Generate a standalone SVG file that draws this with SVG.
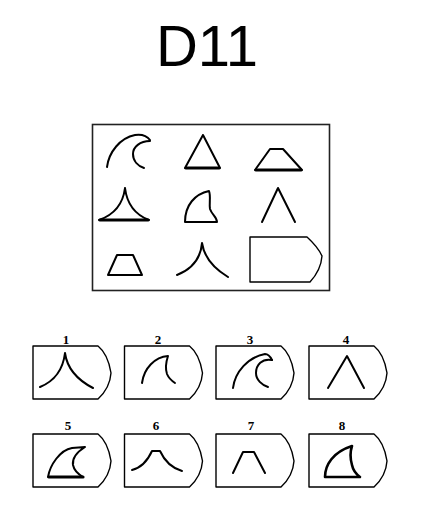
<svg xmlns="http://www.w3.org/2000/svg" width="434" height="516" viewBox="0 0 434 516">
<style>
.fig{fill:none;stroke:#000;stroke-width:2;stroke-linejoin:round;stroke-linecap:round}
.thick{fill:none;stroke:#000;stroke-width:3.2;stroke-linecap:round}
.box{fill:#fff;stroke:#000;stroke-width:1.4;stroke-linejoin:round}
.lbl{font-family:"Liberation Serif",serif;font-weight:bold;font-size:13px;text-anchor:middle;fill:#000}
.title{font-family:"Liberation Sans",Arial,sans-serif;font-size:58px;text-anchor:middle;fill:#000}
</style>
<rect width="434" height="516" fill="#fff"/>
<text class="title" x="207" y="66">D11</text>

<g id="matrix">
<rect x="92.5" y="124.5" width="237" height="166" fill="#fff" stroke="#222" stroke-width="1.6"/>
<g id="cell1"><path class="fig" d="M107,167 C109,152 120,138 135,135 C142,134 147,136 150,140"/><path class="fig" d="M150,141 C140,141 133,147 133,154 C133,161 138,166 144,168"/></g>
<g id="cell2"><path class="fig" d="M203,135 L185,168 L220,168 Z"/><path class="thick" d="M186,168 L219,168"/></g>
<g id="cell3"><path class="fig" d="M270,149 L283,149 L302,170 L255,170 Z"/><path class="thick" d="M256,170 L301,170"/></g>
<g id="cell4"><path class="fig" d="M125,188 Q122,212 99,220 L149,220 Q128,212 125,188"/><path class="thick" d="M100,220 L148,220"/></g>
<g id="cell5"><path class="fig" d="M185,222 C185,205 195,194 209,191 C211,196 209,203 210,209 C212,215 217,217 217,222 Z"/></g>
<g id="cell6"><path class="fig" d="M262,222 L278,188 L295,222"/></g>
<g id="cell7"><path class="fig" d="M117,255 L133,255 L142,275 L108,275 Z"/></g>
<g id="cell8"><path class="fig" d="M177,275 Q200,266 202,243 Q205,263 228,277"/></g>
<g id="cell9"><path class="box" d="M250,237 L307,237 Q318,247 322,256 Q321,270 310,282 L250,282 Z"/></g>
</g>

<g id="opt1"><text class="lbl" x="66" y="344">1</text><path class="box" d="M33,346 H98 Q108,354 111,373 Q110,388 98,399 H33 Z"/><path class="fig" d="M40,387 Q62,378 65,353 Q68,375 93,388"/></g>
<g id="opt2"><text class="lbl" x="158" y="344">2</text><path class="box" d="M124.5,346 H189.5 Q199.5,354 202.5,373 Q201.5,388 189.5,399 H124.5 Z"/><path class="fig" d="M142,383 C144,368 155,357 168,356 C166,362 165,368 167,374 C169,379 172,381 175,383"/></g>
<g id="opt3"><text class="lbl" x="250" y="344">3</text><path class="box" d="M216,346 H281 Q291,354 294,373 Q293,388 281,399 H216 Z"/><path class="fig" d="M233,388 C235,372 248,357 265,354 C268,354 270,356 272,360"/><path class="fig" d="M272,360 C262,358 256,365 256,373 C256,380 262,385 268,387"/></g>
<g id="opt4"><text class="lbl" x="346" y="344">4</text><path class="box" d="M309,346 H374 Q384,354 387,373 Q386,388 374,399 H309 Z"/><path class="fig" d="M328,388 L347,356 L364,388"/></g>

<g id="opt5"><text class="lbl" x="68" y="430">5</text><path class="box" d="M33,434 H98 Q108,442 111,461 Q110,476 98,487 H33 Z"/><path class="fig" d="M48,477 C50,465 60,450 72,448 L85,447 C77,452 72,458 73,465 C74,470 78,474 83,477 Z"/><path class="thick" d="M49,477 L83,477"/></g>
<g id="opt6"><text class="lbl" x="156" y="430">6</text><path class="box" d="M124.5,434 H189.5 Q199.5,442 202.5,461 Q201.5,476 189.5,487 H124.5 Z"/><path class="fig" d="M132,470 C140,468 147,462 152,451 L160,451 C165,462 172,468 182,471"/></g>
<g id="opt7"><text class="lbl" x="251" y="430">7</text><path class="box" d="M216,434 H281 Q291,442 294,461 Q293,476 281,487 H216 Z"/><path class="fig" d="M233,473 L243,452 L254,452 L265,473"/></g>
<g id="opt8"><text class="lbl" x="342" y="430">8</text><path class="box" d="M309,434 H374 Q384,442 387,461 Q386,476 374,487 H309 Z"/><path class="fig" style="stroke-width:2.6" d="M325,477 C325,465 333,452 352,446 C350,452 350,458 352,465 C353,470 356,474 360,477 Z"/></g>
</svg>
